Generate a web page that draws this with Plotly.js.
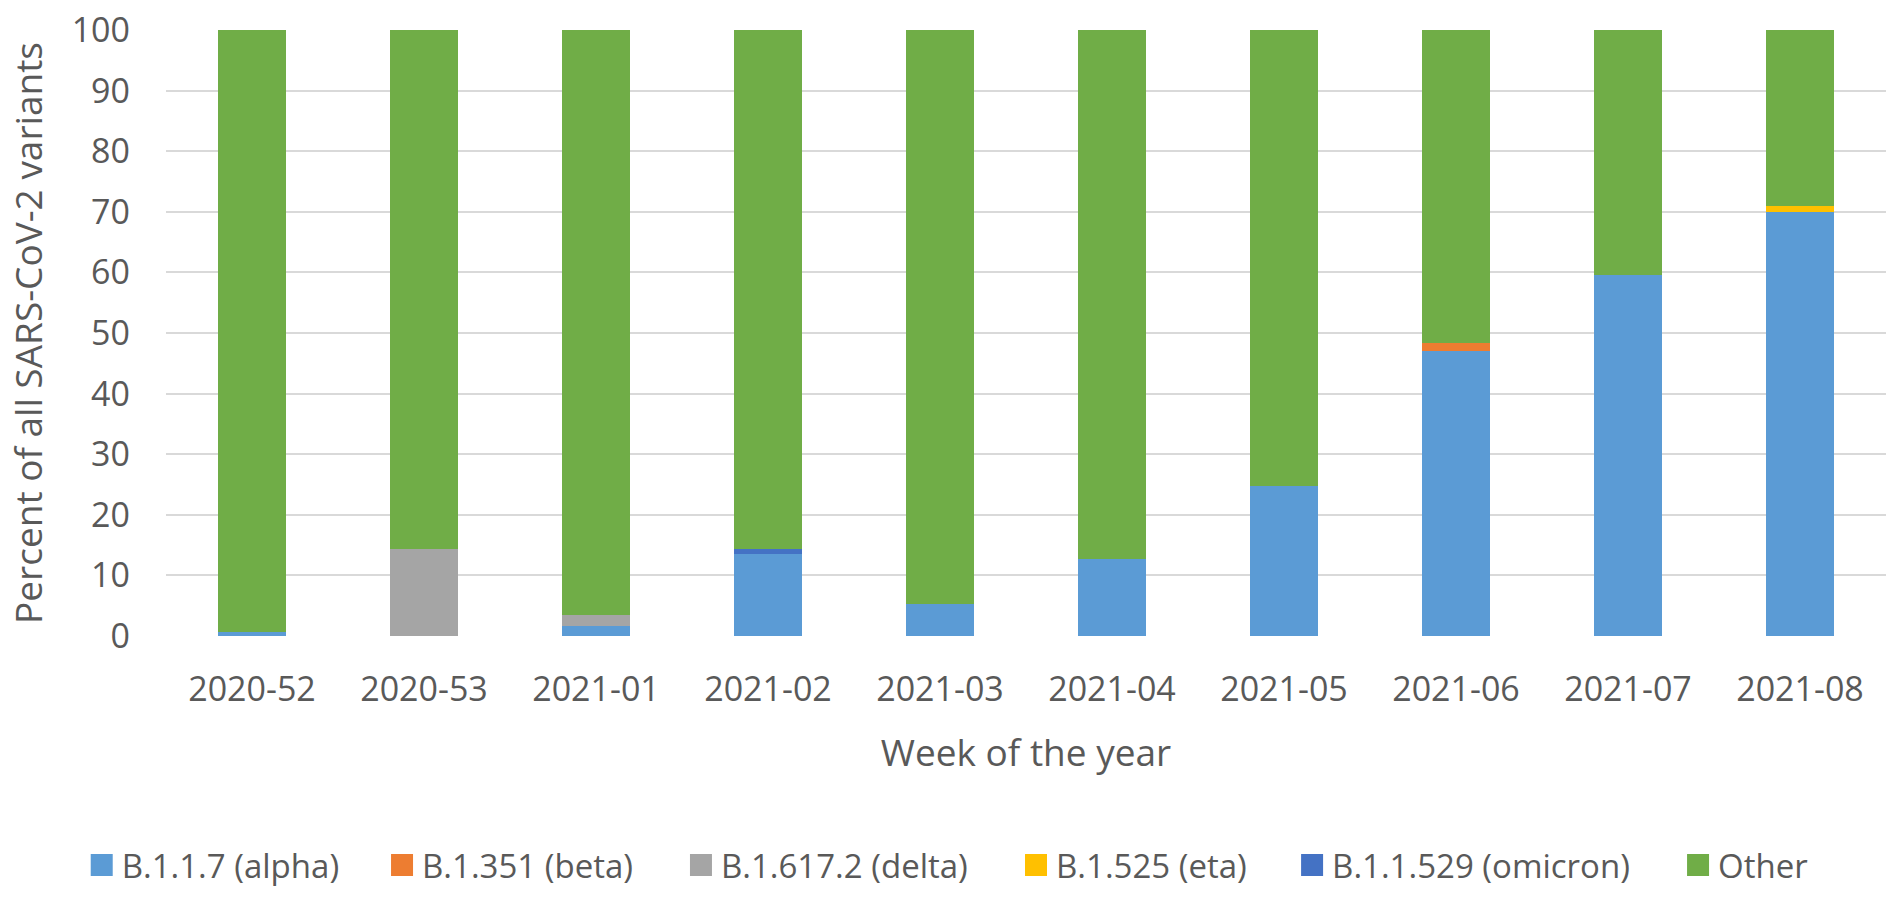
<!DOCTYPE html>
<html>
<head>
<meta charset="utf-8">
<script src="https://cdn.plot.ly/plotly-3.0.1.min.js"></script>
<style>
  html, body { margin: 0; padding: 0; background: #fff; }
  #chart { width: 1902px; height: 905px; }
</style>
</head>
<body>
<div id="chart"></div>
<script>
var weeks = ['2020-52', '2020-53', '2021-01', '2021-02', '2021-03',
             '2021-04', '2021-05', '2021-06', '2021-07', '2021-08'];

var alpha   = [0.7, 0,    1.7, 13.6, 5.2,  12.7, 24.8, 47.1, 59.5, 70.0];
var beta    = [0,   0,    0,   0,    0,    0,    0,    1.3,  0,    0];
var delta   = [0,   14.3, 1.7, 0,    0,    0,    0,    0,    0,    0];
var eta     = [0,   0,    0,   0,    0,    0,    0,    0,    0,    0.9];
var omicron = [0,   0,    0,   0.7,  0,    0,    0,    0,    0,    0];
var other   = [99.3, 85.7, 96.6, 85.7, 94.8, 87.3, 75.2, 51.6, 40.5, 29.1];

var names  = ['B.1.1.7 (alpha)', 'B.1.351 (beta)', 'B.1.617.2 (delta)',
              'B.1.525 (eta)', 'B.1.1.529 (omicron)', 'Other'];
var colors = ['#5B9BD5', '#ED7D31', '#A5A5A5', '#FFC000', '#4472C4', '#70AD47'];
var series = [alpha, beta, delta, eta, omicron, other];

// left edge of each legend entry, in paper units (legend is spread out like the original)
var legendX = [-0.049, 0.1256, 0.2994, 0.4942, 0.6547, 0.8791];

var font = 'Open Sans, Noto Sans, sans-serif';
var grey = '#595959';

var data = [];
var layout = {
	barmode: 'stack',
	bargap: 0.6,
	width: 1902,
	height: 905,
	margin: { l: 166, r: 16, t: 30, b: 259 },
	paper_bgcolor: '#fff',
	plot_bgcolor: '#fff',
	font: { family: font, color: grey, size: 34 },
	xaxis: {
		type: 'category',
		showgrid: false,
		showline: false,
		ticks: '',
		ticklabelstandoff: 30,
		tickfont: { size: 34, color: grey },
		title: { text: 'Week of the year', font: { size: 37, color: grey }, standoff: 30 }
	},
	yaxis: {
		range: [0, 100],
		dtick: 10,
		showgrid: true,
		gridcolor: '#D9D9D9',
		gridwidth: 2,
		zeroline: false,
		showline: false,
		ticks: '',
		ticklabelstandoff: 35,
		tickfont: { size: 34, color: grey },
		title: { text: 'Percent of all SARS-CoV-2 variants', font: { size: 37, color: grey }, standoff: 17 }
	},
	showlegend: true
};

for (var i = 0; i < series.length; i++) {
	var lg = i === 0 ? 'legend' : 'legend' + (i + 1);
	data.push({
		x: weeks,
		y: series[i],
		type: 'bar',
		name: names[i],
		legend: lg,
		marker: { color: colors[i], line: { width: 0 } },
		hoverinfo: 'x+y+name'
	});
	layout[lg] = {
		orientation: 'h',
		x: legendX[i],
		xanchor: 'left',
		y: -0.378,
		yanchor: 'middle',
		bgcolor: 'rgba(0,0,0,0)',
		font: { size: 33, color: grey }
	};
}

function bigSquares() {
	// bigger legend squares, as in the original
	var sq = document.querySelectorAll('#chart g.legendpoints path');
	for (var k = 0; k < sq.length; k++) {
		sq[k].setAttribute('d', 'M11,11H-11V-11H11Z');
	}
}

Plotly.newPlot('chart', data, layout, { displayModeBar: false }).then(function(gd) {
	bigSquares();
	gd.on('plotly_afterplot', bigSquares);
});
</script>
</body>
</html>
